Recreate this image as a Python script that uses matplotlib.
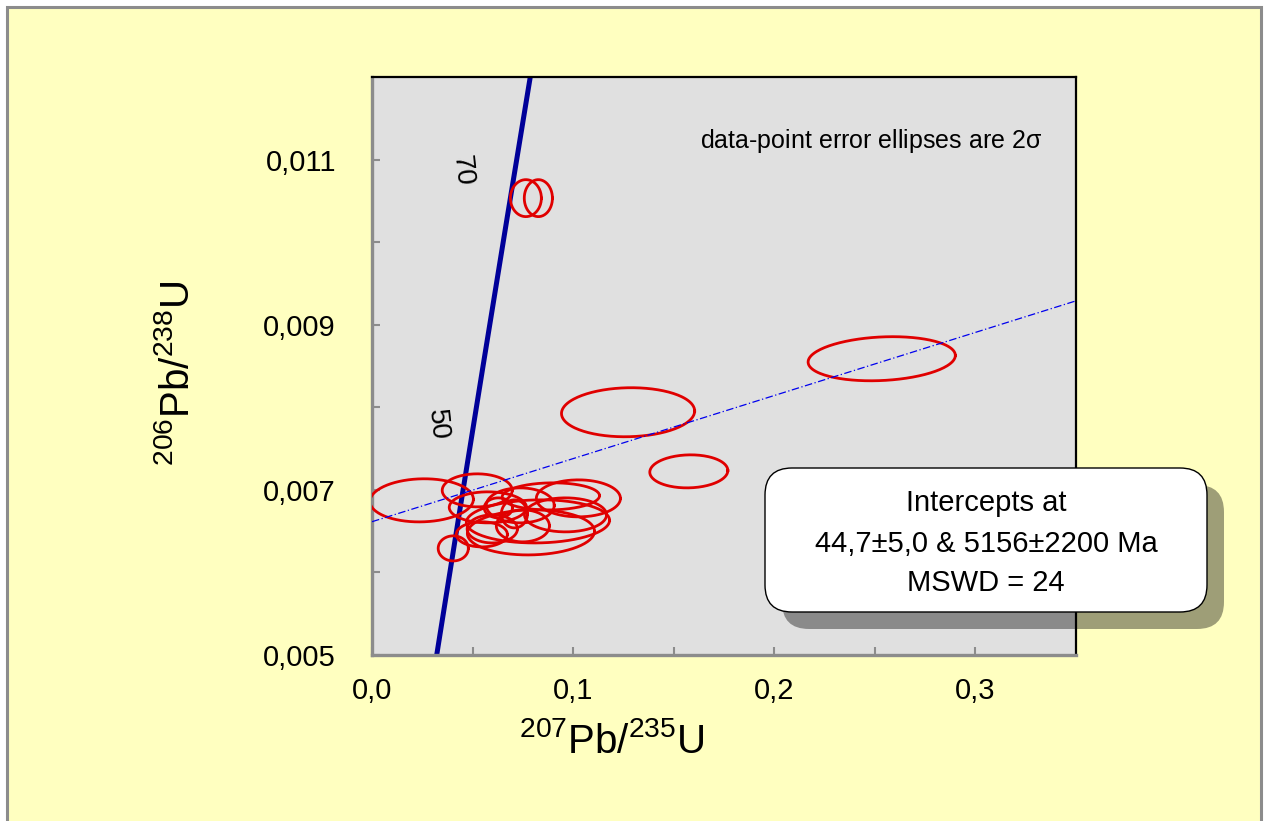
import numpy as np
import matplotlib
matplotlib.use("Agg")
import matplotlib.pyplot as plt
from matplotlib.patches import FancyBboxPatch, Rectangle

plt.rcParams['font.family'] = ['Liberation Sans', 'DejaVu Sans']
plt.rcParams['mathtext.default'] = 'regular'

# Decay constants (1/yr)
LAMBDA_238 = 1.55125e-10
LAMBDA_235 = 9.8485e-10

# Analyses: 207Pb/235U and 206Pb/238U with 2-sigma half-widths and error correlation
pb207_u235 = [0.0247, 0.0523, 0.0576, 0.0737, 0.0889, 0.1026, 0.0962, 0.0790, 0.0825, 0.0546,
              0.0598, 0.0750, 0.0404, 0.0628, 0.0708, 0.0765, 0.0827, 0.2534, 0.1273, 0.1575]
err_207 = [0.0257, 0.0174, 0.0192, 0.0169, 0.0242, 0.0209, 0.0204, 0.0316, 0.0356, 0.0127,
           0.0125, 0.0132, 0.0075, 0.0070, 0.0065, 0.0077, 0.0070, 0.0366, 0.0331, 0.0194]
pb206_u238 = [0.006873, 0.006994, 0.006788, 0.006812, 0.006921, 0.006897, 0.006697, 0.006485,
              0.006618, 0.006461, 0.006527, 0.006564, 0.006291, 0.006782, 0.006709, 0.010533,
              0.010533, 0.008588, 0.007940, 0.007224]
err_206 = [0.000261, 0.000200, 0.000188, 0.000212, 0.000164, 0.000224, 0.000206, 0.000273,
           0.000261, 0.000152, 0.000170, 0.000194, 0.000152, 0.000121, 0.000170, 0.000224,
           0.000224, 0.000267, 0.000297, 0.000200]
err_rho = [0.05, 0.0, 0.0, 0.0, 0.05, 0.0, 0.0, 0.05, 0.05, 0.0,
           0.0, 0.0, 0.0, 0.0, 0.0, 0.0, 0.0, 0.15, 0.05, 0.05]

# Regression intercepts (Ma) and fit statistics
lower_age = 44.7
lower_err = "5,0"
upper_age = 5156
upper_err = "2200"
mswd = 24

# Concordia age labels (Ma)
concordia_labels = [50, 70]

xticks_major = [0.0, 0.1, 0.2, 0.3]
xtick_labels = ["0,0", "0,1", "0,2", "0,3"]
xticks_minor = [0.05, 0.15, 0.25]
yticks_major = [0.005, 0.007, 0.009, 0.011]
ytick_labels = ["0,005", "0,007", "0,009", "0,011"]
yticks_minor = [0.006, 0.008, 0.010]


def concordia(t_ma):
    t = np.asarray(t_ma, dtype=float) * 1e6
    return np.exp(LAMBDA_235 * t) - 1.0, np.exp(LAMBDA_238 * t) - 1.0


fig = plt.figure(figsize=(12.64, 8.21), dpi=100, facecolor='white')

# Pale yellow panel with grey frame
fig.patches.append(Rectangle((0.0055, -0.05), 0.9925, 1.0415, transform=fig.transFigure,
                             facecolor='#FFFFC0', edgecolor='#8C8C8C', linewidth=2.2, zorder=-5))

ax = fig.add_axes([0.2943, 0.2022, 0.5570, 0.7040])
ax.set_facecolor('#E0E0E0')
ax.set_xlim(0.0, 0.35)
ax.set_ylim(0.005, 0.012)

for side in ('left', 'bottom'):
    ax.spines[side].set_color('#8C8C8C')
    ax.spines[side].set_linewidth(2.4)
for side in ('top', 'right'):
    ax.spines[side].set_color('black')
    ax.spines[side].set_linewidth(1.6)

ax.set_xticks(xticks_major)
ax.set_xticklabels(xtick_labels)
ax.set_xticks(xticks_minor, minor=True)
ax.set_yticks(yticks_major)
ax.set_yticklabels(ytick_labels)
ax.set_yticks(yticks_minor, minor=True)
ax.tick_params(which='both', direction='in', length=6, width=1.5, color='#8C8C8C',
               labelsize=21)
ax.tick_params(axis='x', which='major', pad=16)
ax.tick_params(axis='y', which='major', pad=26)

# Concordia curve
ages = np.linspace(20, 90, 400)
cx, cy = concordia(ages)
ax.plot(cx, cy, color='#000099', linewidth=3.6, zorder=2, solid_capstyle='butt')

# Concordia age labels
label_pos = {50: (0.0323, 0.00779), 70: (0.0447, 0.01087)}
for age in concordia_labels:
    lx, ly = label_pos[age]
    ax.text(lx, ly, str(age), rotation=-84, fontsize=20, ha='center', va='center', zorder=4)

# Error ellipses
theta = np.linspace(0, 2 * np.pi, 200)
for x0, sx, y0, sy, r in zip(pb207_u235, err_207, pb206_u238, err_206, err_rho):
    ex = x0 + sx * np.cos(theta)
    ey = y0 + sy * (r * np.cos(theta) + np.sqrt(1 - r * r) * np.sin(theta))
    ax.plot(ex, ey, color='#E00000', linewidth=2.0, zorder=3)

# Discordia through the two intercepts
lx0, ly0 = concordia(lower_age)
ux0, uy0 = concordia(upper_age)
slope = (uy0 - ly0) / (ux0 - lx0)
dx = np.array([0.0, 0.35])
ax.plot(dx, ly0 + slope * (dx - lx0), color='#0000EE', linewidth=0.9,
        linestyle=(0, (6, 2, 1, 2)), zorder=5)

ax.text(0.9517, 0.889, r"data-point error ellipses are 2$\sigma$", transform=ax.transAxes,
        ha='right', va='center', fontsize=18)

ax.set_xlabel(r"$^{207}$Pb/$^{235}$U", fontsize=29, va='center')
ax.xaxis.set_label_coords(0.34, -0.150)
ax.set_ylabel(r"$^{206}$Pb/$^{238}$U", fontsize=29, va='center')
ax.yaxis.set_label_coords(-0.276, 0.487)

# Results box with drop shadow
box_x, box_y, box_w, box_h = 7.65, 2.09, 4.42, 1.44
shadow = FancyBboxPatch((box_x + 0.17, box_y - 0.17), box_w, box_h,
                        boxstyle="round,pad=0,rounding_size=0.27",
                        transform=fig.dpi_scale_trans, facecolor='black', alpha=0.38,
                        edgecolor='none', zorder=10)
box = FancyBboxPatch((box_x, box_y), box_w, box_h,
                     boxstyle="round,pad=0,rounding_size=0.27",
                     transform=fig.dpi_scale_trans, facecolor='white',
                     edgecolor='black', linewidth=1.0, zorder=11)
fig.patches.extend([shadow, box])

result_lines = [
    "Intercepts at",
    f"{str(lower_age).replace('.', ',')}\u00b1{lower_err} & {upper_age}\u00b1{upper_err} Ma",
    f"MSWD = {mswd}",
]
for line, yy in zip(result_lines, [3.18, 2.77, 2.38]):
    fig.text(9.86 / 12.64, yy / 8.21, line, ha='center', va='center', fontsize=21, zorder=12)

fig.savefig("out.png", dpi=100, facecolor=fig.get_facecolor())
